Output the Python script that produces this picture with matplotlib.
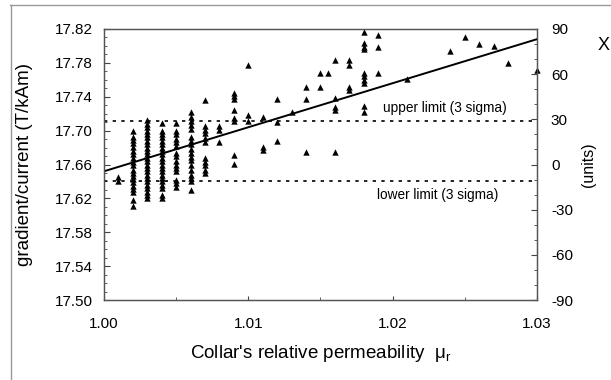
import numpy as np
import matplotlib
matplotlib.use('Agg')
import matplotlib.pyplot as plt
from matplotlib.lines import Line2D
from matplotlib.ticker import MultipleLocator, FixedLocator

plt.rcParams['font.family'] = ['Liberation Sans', 'DejaVu Sans']
plt.rcParams['mathtext.fontset'] = 'custom'
plt.rcParams['mathtext.rm'] = 'Liberation Sans'
plt.rcParams['axes.unicode_minus'] = False

# ── Data ─────────────────────────────────────────────────────────────────────

# dense measurement columns at small permeability steps
col_mu = [1.001, 1.002, 1.003, 1.004, 1.005, 1.006, 1.007]
col_vals = [
    [17.645, 17.641],
    [17.700, 17.693, 17.689, 17.685, 17.681, 17.676, 17.672, 17.668, 17.663,
     17.659, 17.654, 17.650, 17.646, 17.643, 17.639, 17.635, 17.631, 17.627,
     17.618, 17.611],
    [17.712, 17.708, 17.704, 17.700, 17.696, 17.692, 17.688, 17.684, 17.680,
     17.676, 17.672, 17.668, 17.664, 17.660, 17.656, 17.652, 17.648, 17.644,
     17.640, 17.636, 17.632, 17.628, 17.624, 17.620],
    [17.709, 17.700, 17.696, 17.692, 17.688, 17.684, 17.680, 17.676, 17.672,
     17.668, 17.664, 17.660, 17.656, 17.652, 17.648, 17.644, 17.640, 17.636,
     17.632, 17.624, 17.620],
    [17.709, 17.700, 17.696, 17.690, 17.686, 17.682, 17.674, 17.670, 17.664,
     17.660, 17.656, 17.652, 17.642, 17.638, 17.634],
    [17.722, 17.716, 17.711, 17.707, 17.702, 17.692, 17.688, 17.684, 17.678,
     17.673, 17.669, 17.665, 17.660, 17.653, 17.648, 17.644, 17.640, 17.630],
    [17.736, 17.705, 17.701, 17.697, 17.691, 17.687, 17.668, 17.663, 17.659,
     17.653, 17.650],
]

# sparser points at higher permeability
sparse_mu = [1.008, 1.008, 1.008,
             1.009, 1.009, 1.009, 1.009, 1.009, 1.009, 1.009, 1.009,
             1.010, 1.010, 1.010,
             1.011, 1.011, 1.011,
             1.012, 1.012, 1.012,
             1.013,
             1.014, 1.014, 1.014,
             1.015, 1.015, 1.0155,
             1.016, 1.016, 1.016, 1.016, 1.016,
             1.017, 1.017, 1.017, 1.017,
             1.018, 1.018, 1.018, 1.018, 1.018, 1.018, 1.018, 1.018, 1.018, 1.018,
             1.019, 1.019, 1.019,
             1.021, 1.024, 1.025, 1.026, 1.027, 1.028, 1.030]
sparse_val = [17.705, 17.701, 17.687,
              17.745, 17.741, 17.737, 17.724, 17.715, 17.711, 17.671, 17.661,
              17.777, 17.719, 17.711,
              17.716, 17.681, 17.677,
              17.737, 17.710, 17.688,
              17.722,
              17.752, 17.737, 17.675,
              17.768, 17.751, 17.768,
              17.783, 17.739, 17.728, 17.724, 17.675,
              17.783, 17.777, 17.752, 17.748,
              17.816, 17.803, 17.799, 17.796, 17.768, 17.764, 17.760, 17.756, 17.729, 17.722,
              17.813, 17.799, 17.768,
              17.761, 17.794, 17.810, 17.802, 17.800, 17.780, 17.772]

# linear fit end points
fit_mu = [1.000, 1.030]
fit_val = [17.652, 17.808]

upper_limit = 17.711
lower_limit = 17.641

y_ticks = [17.50, 17.54, 17.58, 17.62, 17.66, 17.70, 17.74, 17.78, 17.82]
x_ticks = [1.00, 1.01, 1.02, 1.03]
units_ticks = [-90, -60, -30, 0, 30, 60, 90]

# ── Plot ─────────────────────────────────────────────────────────────────────

fig = plt.figure(figsize=(6.11, 3.80), dpi=100)
ax = fig.add_axes([104 / 611, 80 / 380, 433 / 611, 271 / 380])

xs = []
ys = []
for m, vals in zip(col_mu, col_vals):
    xs += [m] * len(vals)
    ys += vals
xs += sparse_mu
ys += sparse_val

ax.scatter(xs, ys, marker='^', s=21, color='black', linewidths=0,
           zorder=3, clip_on=False)
ax.plot(fit_mu, fit_val, color='black', linewidth=1.4, zorder=4)

ax.axhline(upper_limit, color='black', linewidth=1.2, linestyle=(0, (2, 3.2)))
ax.axhline(lower_limit, color='black', linewidth=1.2, linestyle=(0, (2, 3.2)))
ax.text(1.0279, upper_limit + 0.0155, 'upper limit (3 sigma)', ha='right',
        va='center', fontsize=9.8)
ax.text(1.0273, lower_limit - 0.0175, 'lower limit (3 sigma)', ha='right',
        va='center', fontsize=9.8)

ax.set_xlim(1.00, 1.03)
ax.set_ylim(17.50, 17.82)
ax.xaxis.set_major_locator(FixedLocator(x_ticks))
ax.xaxis.set_minor_locator(MultipleLocator(0.005))
ax.yaxis.set_major_locator(FixedLocator(y_ticks))
ax.yaxis.set_minor_locator(MultipleLocator(0.01))
ax.xaxis.set_major_formatter(lambda v, p: f'{v:.2f}')
ax.yaxis.set_major_formatter(lambda v, p: f'{v:.2f}')
ax.tick_params(axis='both', which='both', direction='in', colors='#444444',
               labelcolor='black', labelsize=11)
ax.tick_params(axis='y', which='major', length=4, pad=8)
ax.tick_params(axis='y', which='minor', length=2)
ax.tick_params(axis='x', which='major', length=3, pad=12)
ax.tick_params(axis='x', which='minor', length=2)
for spine in ax.spines.values():
    spine.set_color('#555555')
    spine.set_linewidth(0.9)

ax.set_ylabel('gradient/current (T/kAm)', fontsize=13.5, labelpad=16)
ax.set_xlabel("Collar's relative permeability  μ$_{\\rm r}$", fontsize=13.5,
              labelpad=9)

ax2 = ax.twinx()
ax2.set_ylim(-90, 90)
ax2.yaxis.set_major_locator(FixedLocator(units_ticks))
ax2.yaxis.set_minor_locator(MultipleLocator(10))
ax2.tick_params(axis='y', which='both', direction='in', colors='#444444',
                labelcolor='black', labelsize=11)
ax2.tick_params(axis='y', which='major', length=4, pad=10)
ax2.tick_params(axis='y', which='minor', length=2)
for spine in ax2.spines.values():
    spine.set_color('#555555')
    spine.set_linewidth(0.9)
ax2.set_ylabel('(units)', fontsize=11.5, labelpad=6)

# scanned page frame and neighbour glyph at the right edge
fig.add_artist(Line2D([10 / 611, 1.0], [1 - 5 / 380, 1 - 5 / 380],
                      color='#999999', linewidth=1.0))
fig.add_artist(Line2D([11 / 611, 11 / 611], [0.0, 1 - 5 / 380],
                      color='#999999', linewidth=1.0))
fig.text(598 / 611, 1 - 46 / 380, 'X', fontsize=13, ha='left', va='center')

fig.savefig('out.png', dpi=100, facecolor='white')
